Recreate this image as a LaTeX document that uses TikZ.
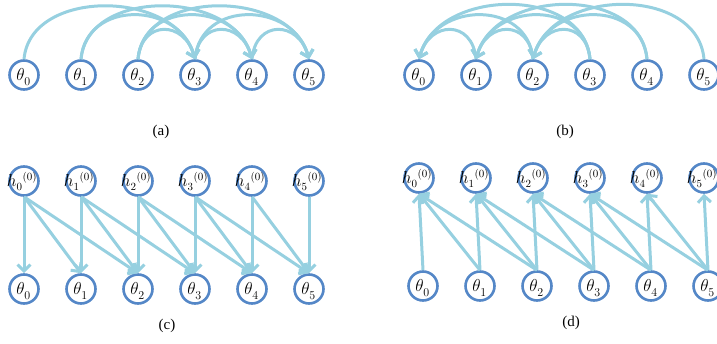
\documentclass[tikz,border=0pt]{standalone}
\usepackage{fontspec}
\setmainfont{Liberation Serif}
\usetikzlibrary{arrows.meta}
\definecolor{nodeblue}{RGB}{84,135,199}
\definecolor{arrowblue}{RGB}{150,208,224}
\newcommand\thlab[1]{\smash{\makebox[0pt]{\kern-1pt\raisebox{-5.5pt}{$\theta_{\lower2.5pt\hbox{$\scriptstyle #1$}}$}}}}
\newcommand\hzlab[1]{\smash{\makebox[0pt]{\kern-4pt\raisebox{-5.5pt}{\fontsize{16}{19}\selectfont$h_{\lower1.5pt\hbox{$\scriptstyle #1$}}{}^{(0)}$}}}}
\begin{document}
\begin{tikzpicture}[x=1pt,y=1pt,
  vnode/.style={circle, draw=nodeblue, line width=2.6pt, fill=white, minimum size=29pt, inner sep=0pt, font=\fontsize{18}{21}\selectfont},
  conn/.style={draw=arrowblue, line width=3pt, -{Straight Barb[length=6.5pt,width=13pt]}},
  capt/.style={font=\fontsize{15}{18}\selectfont, inner sep=0pt},
  rgtone/.style={out=85,in=105,distance=40pt},
  rgttwo/.style={out=85,in=105,distance=60pt},
  rgtthree/.style={out=85,in=105,distance=72pt},
  lftone/.style={out=95,in=75,distance=40pt},
  lfttwo/.style={out=95,in=75,distance=60pt},
  lftthree/.style={out=95,in=75,distance=74pt}
]
\useasboundingbox (0,0) rectangle (717,343);

% (a)
\foreach \k in {0,...,5} {
  \node[vnode] (a\k) at ({24+57*\k},268) {\thlab{\k}};
}
% (b)
\foreach \k in {0,...,5} {
  \node[vnode] (b\k) at ({419+57*\k},268) {\thlab{\k}};
}
% (c)
\foreach \k in {0,...,5} {
  \node[vnode] (ch\k) at ({24+57*\k},162) {\hzlab{\k}};
  \node[vnode] (ct\k) at ({24+57*\k},54) {\thlab{\k}};
}
% (d)
\foreach \k in {0,...,5} {
  \node[vnode] (dh\k) at ({419+57*\k},165) {\hzlab{\k}};
  \node[vnode] (dt\k) at ({423+57*\k},57) {\thlab{\k}};
}

% arcs (a)
\draw[conn] (a0.north) to[rgtthree] (a3.north);
\draw[conn] (a1.north) to[rgttwo] (a3.north);
\draw[conn] (a2.north) to[rgtone] (a3.north);
\draw[conn] (a1.north) to[rgtthree] (a4.north);
\draw[conn] (a2.north) to[rgttwo] (a4.north);
\draw[conn] (a3.north) to[rgtone] (a4.north);
\draw[conn] (a2.north) to[rgtthree] (a5.north);
\draw[conn] (a3.north) to[rgttwo] (a5.north);
\draw[conn] (a4.north) to[rgtone] (a5.north);

% arcs (b)
\draw[conn] (b3.north) to[lftthree] (b0.north);
\draw[conn] (b2.north) to[lfttwo] (b0.north);
\draw[conn] (b1.north) to[lftone] (b0.north);
\draw[conn] (b4.north) to[lftthree] (b1.north);
\draw[conn] (b3.north) to[lfttwo] (b1.north);
\draw[conn] (b2.north) to[lftone] (b1.north);
\draw[conn] (b5.north) to[lftthree] (b2.north);
\draw[conn] (b4.north) to[lfttwo] (b2.north);
\draw[conn] (b3.north) to[lftone] (b2.north);

% arrows (c)
\foreach \i/\j in {0/0,0/1,0/2,1/1,1/2,1/3,2/2,2/3,2/4,3/3,3/4,3/5,4/4,4/5,5/5}
  \draw[conn] (ch\i.south) -- (ct\j.north);

% arrows (d)
\foreach \j/\i in {0/0,1/1,1/0,2/2,2/1,2/0,3/3,3/2,3/1,4/4,4/3,4/2,5/5,5/4,5/3}
  \draw[conn] (dt\j.north) -- (dh\i.south);

% captions
\node[capt] (capa) at (161,211) {(a)};
\node[capt] (capb) at (565,211) {(b)};
\node[capt] (capc) at (167,17) {(c)};
\node[capt] (capd) at (571,20) {(d)};
\end{tikzpicture}
\end{document}
